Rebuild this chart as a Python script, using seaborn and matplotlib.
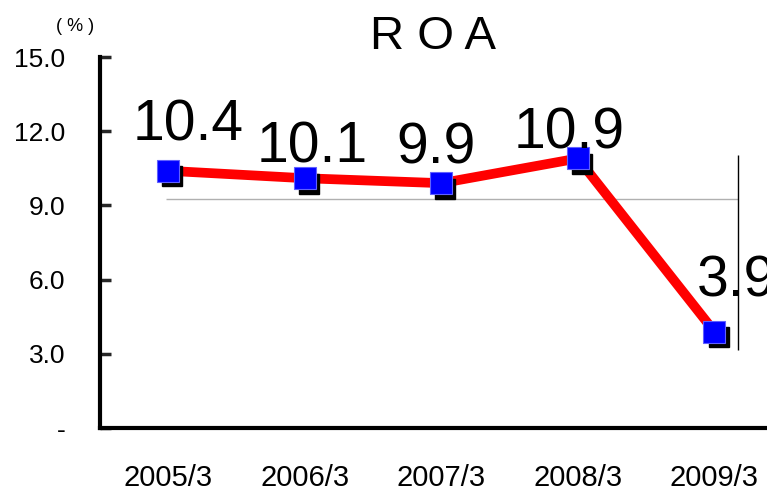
import numpy as np
import pandas as pd
import matplotlib
matplotlib.use('Agg')
import matplotlib.pyplot as plt
import matplotlib.transforms as mtransforms
import seaborn as sns

periods = ['2005/3', '2006/3', '2007/3', '2008/3', '2009/3']
roa = [10.4, 10.1, 9.9, 10.9, 3.9]
y_ticks = [0, 3, 6, 9, 12, 15]
y_tick_labels = ['-', '3.0', '6.0', '9.0', '12.0', '15.0']

# label placement (points) - labels in the original were nudged by hand
label_dx = [14, 5, -4, -6, 16]
label_dy = [22, 11, 14, 7, 25]

# stray guide lines seen in the original picture
guide_y = 9.27
guide_x = (-0.02, 4.17)
guide_v = (3.16, 11.05)

sns.set_style('white')
plt.rcParams['font.family'] = ['Liberation Sans', 'DejaVu Sans']

df = pd.DataFrame({'period': periods, 'roa': roa})
pos = np.arange(len(periods))

fig = plt.figure(figsize=(7.67, 4.93), dpi=100)
ax = fig.add_axes([0.1304, 0.1318, 0.89, 0.7525])

ax.hlines(guide_y, guide_x[0], guide_x[1], color='#b0b0b0', lw=1, zorder=1)
ax.vlines(guide_x[1], guide_v[0], guide_v[1], color='black', lw=1, zorder=1)

sns.lineplot(x=pos, y=df['roa'], color='red', lw=7, ax=ax, zorder=2)
shadow = ax.transData + mtransforms.ScaledTranslation(3 / 72, -4 / 72, fig.dpi_scale_trans)
ax.plot(pos, df['roa'], 's', color='black', ms=14, transform=shadow, zorder=3)
ax.plot(pos, df['roa'], 's', color='blue', ms=16, mec='#6060ff', mew=0.8, zorder=4)

for x, v, dx, dy in zip(pos, roa, label_dx, label_dy):
    ax.annotate(f'{v:.1f}', (x, v), xytext=(dx, dy), textcoords='offset points',
                ha='center', va='baseline', fontsize=41, color='black', zorder=5)

ax.set_xlim(-0.5, 4.5)
ax.set_ylim(0, 15)
ax.set_yticks(y_ticks)
ax.set_yticklabels(y_tick_labels, fontsize=19, color='black')
ax.set_xticks(pos)
ax.set_xticklabels(periods, fontsize=21, color='black')
ax.set_xticks(pos[:-1] + 0.5, minor=True)
ax.tick_params(axis='x', which='major', length=0, pad=26)
ax.tick_params(axis='x', which='minor', direction='in', length=10, width=2.5)
ax.tick_params(axis='y', direction='in', length=8, width=2.5, pad=25, left=True)
ax.set_xlabel('')
ax.set_ylabel('')

for s in ['top', 'right']:
    ax.spines[s].set_visible(False)
for s in ['left', 'bottom']:
    ax.spines[s].set_linewidth(3)
    ax.spines[s].set_color('black')

fig.text(0.565, 0.925, 'R O A', ha='center', va='center', fontsize=34, color='black')
fig.text(0.098, 0.946, '( % )', ha='center', va='center', fontsize=13, color='black')

fig.savefig('out.png', dpi=100)
